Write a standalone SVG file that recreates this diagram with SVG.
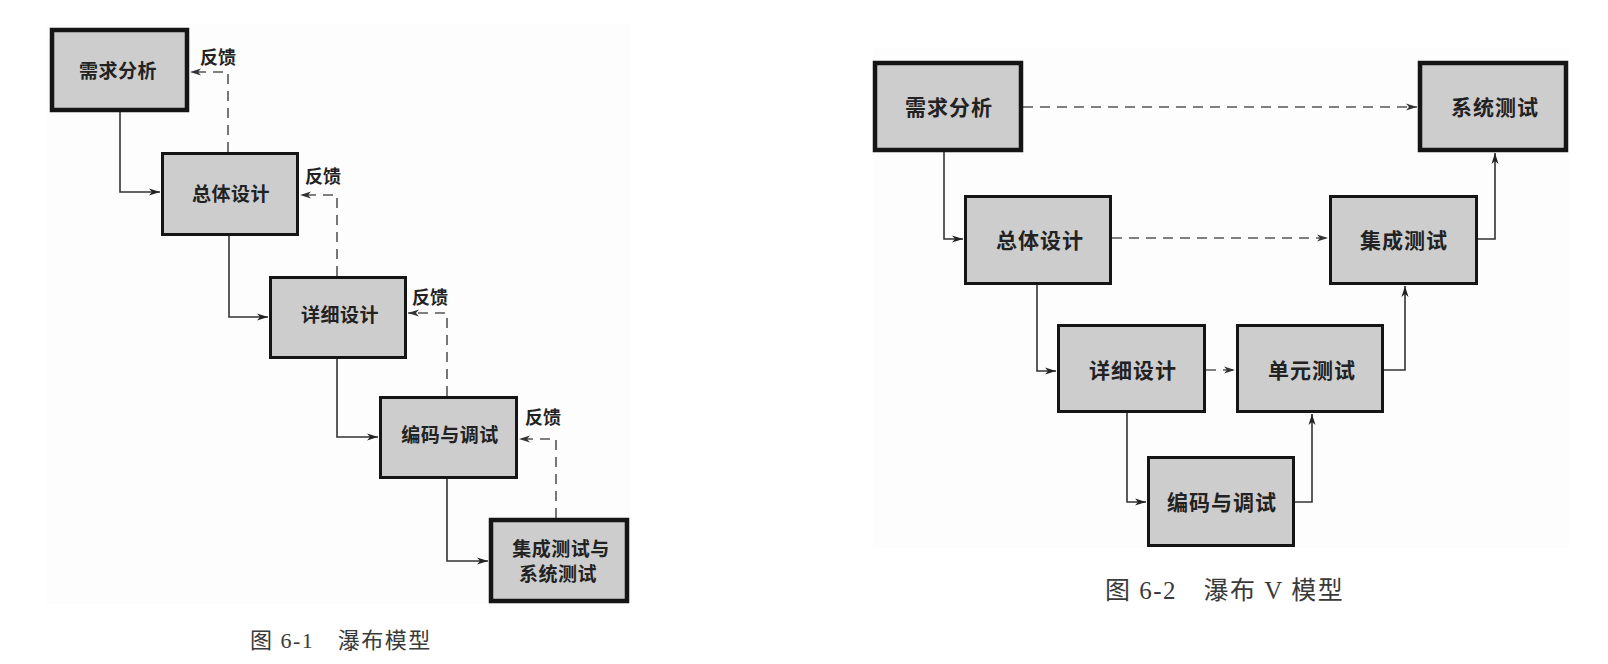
<svg xmlns="http://www.w3.org/2000/svg" width="1608" height="664" viewBox="0 0 1608 664">
<defs>
<marker id="ah" markerUnits="userSpaceOnUse" markerWidth="12" markerHeight="8" refX="11" refY="4" orient="auto">
<path d="M0,0.5 L11,4 L0,7.5 L3,4 Z" fill="#222"/>
</marker>
<marker id="ahd" markerUnits="userSpaceOnUse" markerWidth="12" markerHeight="8" refX="11" refY="4" orient="auto">
<path d="M0,0.5 L11,4 L0,7.5 L3,4 Z" fill="#333"/>
</marker>
</defs>
<style>
.box{fill:#cdcdcd;stroke:#151515;stroke-width:3}
.thick{stroke-width:4.5}
.lbl{font-family:"Noto Sans CJK SC","Noto Sans",sans-serif;font-weight:bold;fill:#222;text-anchor:middle}
.l1{font-size:19px;letter-spacing:0.5px}
.l2{font-size:21px;letter-spacing:1px}
.fb{font-family:"Noto Sans CJK SC","Noto Sans",sans-serif;font-weight:bold;fill:#222;font-size:18px}
.cap{font-family:"Liberation Serif","Noto Sans CJK SC",serif;fill:#3a3a3a;letter-spacing:1.5px}
.solid{fill:none;stroke:#333;stroke-width:1.6;marker-end:url(#ah)}
.dash{fill:none;stroke:#555;stroke-width:1.6;stroke-dasharray:10 7;marker-end:url(#ahd)}
</style>
<rect width="1608" height="664" fill="#ffffff"/>
<rect x="46" y="24" width="584" height="580" fill="#fdfdfd"/>
<rect x="873" y="48" width="696" height="500" fill="#fdfdfd"/>

<g id="connectors">
<path class="solid" d="M120 112 V192 H160"/>
<path class="solid" d="M229 236 V317 H268"/>
<path class="solid" d="M337 359 V437 H378"/>
<path class="solid" d="M447 479 V561 H488"/>
<path class="dash" d="M228 152 V72 H190"/>
<path class="dash" d="M337 276 V195 H300"/>
<path class="dash" d="M447 396 V313 H408"/>
<path class="dash" d="M556 518 V439 H519"/>

<path class="solid" d="M944 152 V239 H963"/>
<path class="solid" d="M1037 285 V371 H1056"/>
<path class="solid" d="M1127 413 V502 H1146"/>
<path class="solid" d="M1295 502 H1312 V414"/>
<path class="solid" d="M1384 370 H1405 V286"/>
<path class="solid" d="M1478 239 H1495 V153"/>
<path class="dash" d="M1023 107 H1417"/>
<path class="dash" d="M1112 238 H1328"/>
<path class="dash" d="M1206 370 H1235"/>
</g>

<g id="w-req">
<rect class="box thick" x="52" y="30" width="135" height="80"/>
<text class="lbl l1" x="118" y="78">需求分析</text>
</g>
<g id="w-fb1"><text class="fb" x="200" y="64">反馈</text></g>
<g id="w-overall">
<rect class="box" x="162.5" y="153.5" width="135" height="81"/>
<text class="lbl l1" x="231" y="201">总体设计</text>
</g>
<g id="w-fb2"><text class="fb" x="305" y="183">反馈</text></g>
<g id="w-detail">
<rect class="box" x="270.5" y="277.5" width="135" height="80"/>
<text class="lbl l1" x="340" y="322">详细设计</text>
</g>
<g id="w-fb3"><text class="fb" x="412" y="304">反馈</text></g>
<g id="w-code">
<rect class="box" x="380.5" y="397.5" width="136" height="80"/>
<text class="lbl l1" x="450" y="442">编码与调试</text>
</g>
<g id="w-fb4"><text class="fb" x="525" y="424">反馈</text></g>
<g id="w-test">
<rect class="box thick" x="491" y="520" width="136" height="81"/>
<text class="lbl l1" x="561" y="556">集成测试与</text>
<text class="lbl l1" x="558" y="581">系统测试</text>
</g>
<text class="cap" x="250" y="648" font-size="22">图 6-1　瀑布模型</text>

<g id="v-req">
<rect class="box thick" x="875" y="63" width="146" height="87"/>
<text class="lbl l2" x="949" y="115">需求分析</text>
</g>
<g id="v-systest">
<rect class="box thick" x="1420" y="63" width="146" height="87"/>
<text class="lbl l2" x="1495" y="115">系统测试</text>
</g>
<g id="v-overall">
<rect class="box" x="965.5" y="196.5" width="145" height="87"/>
<text class="lbl l2" x="1040" y="248">总体设计</text>
</g>
<g id="v-inttest">
<rect class="box" x="1330.5" y="196.5" width="146" height="87"/>
<text class="lbl l2" x="1404" y="248">集成测试</text>
</g>
<g id="v-detail">
<rect class="box" x="1058.5" y="325.5" width="146" height="86"/>
<text class="lbl l2" x="1133" y="378">详细设计</text>
</g>
<g id="v-unittest">
<rect class="box" x="1237.5" y="325.5" width="145" height="86"/>
<text class="lbl l2" x="1312" y="378">单元测试</text>
</g>
<g id="v-code">
<rect class="box" x="1148.5" y="457.5" width="145" height="88"/>
<text class="lbl l2" x="1222" y="510">编码与调试</text>
</g>
<text class="cap" x="1105" y="599" font-size="25">图 6-2　瀑布 V 模型</text>
</svg>
